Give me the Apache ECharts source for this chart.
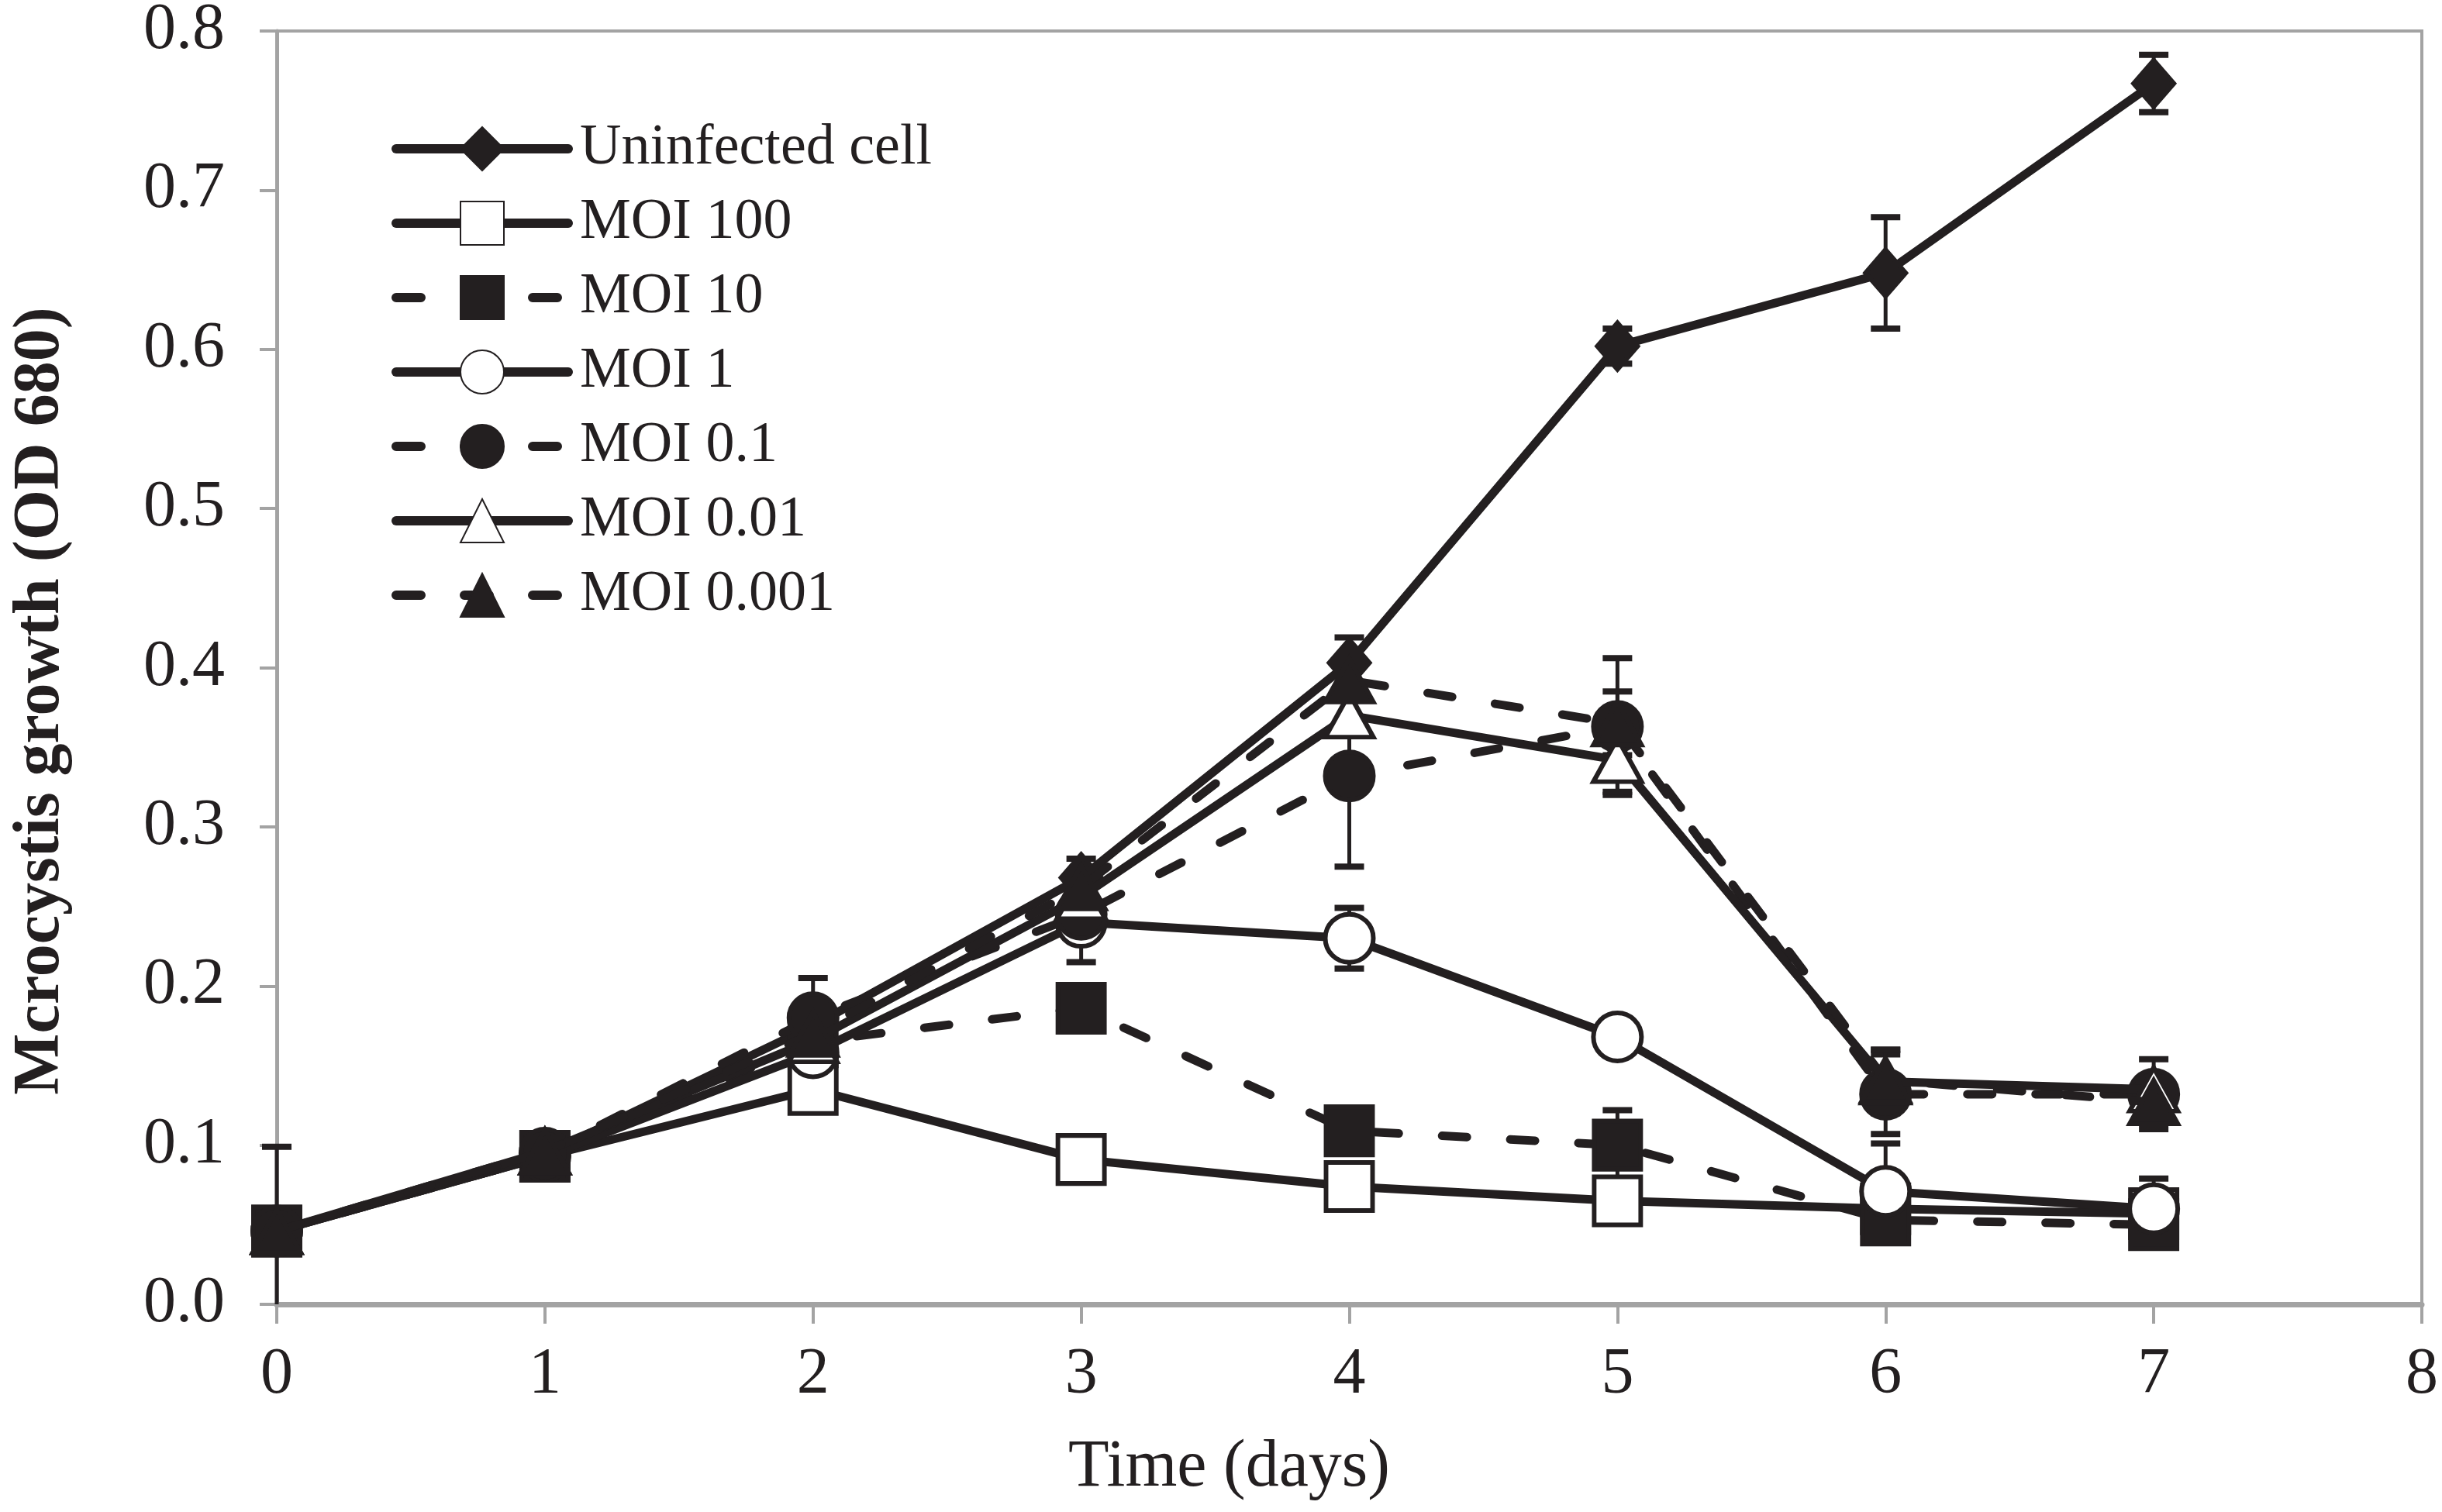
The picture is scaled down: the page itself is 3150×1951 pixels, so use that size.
<!DOCTYPE html>
<html>
<head>
<meta charset="utf-8">
<script src="https://cdn.jsdelivr.net/npm/echarts@6/dist/echarts.min.js"></script>
<style>html,body{margin:0;padding:0;background:#fff}#c{width:3150px;height:1951px}</style>
</head>
<body>
<div id="c"></div>
<script>
// ---- data ----
var days = [0, 1, 2, 3, 4, 5, 6, 7];
var seriesNames = ['Uninfected cell', 'MOI 100', 'MOI 10', 'MOI 1', 'MOI 0.1', 'MOI 0.01', 'MOI 0.001'];
var uninfected = [0.046, 0.094, 0.175, 0.268, 0.403, 0.602, 0.648, 0.767];
var moi100     = [0.046, 0.093, 0.135, 0.091, 0.074, 0.065, 0.060, 0.057];
var moi10      = [0.046, 0.093, 0.165, 0.186, 0.109, 0.100, 0.053, 0.050];
var moi1       = [0.046, 0.093, 0.158, 0.240, 0.230, 0.168, 0.071, 0.060];
var moi01      = [0.046, 0.095, 0.180, 0.245, 0.332, 0.363, 0.132, 0.132];
var moi001     = [0.046, 0.096, 0.166, 0.256, 0.370, 0.342, 0.140, 0.135];
var moi0001    = [0.046, 0.096, 0.170, 0.262, 0.392, 0.365, 0.141, 0.127];
// standard deviations (null = no visible error bar)
var uninfectedErr = [0.053, null, null, 0.012, 0.016, 0.011, 0.035, 0.018];
var moi100Err     = [null, null, 0.012, null, null, null, null, null];
var moi10Err      = [null, null, null, null, null, 0.022, null, null];
var moi1Err       = [null, null, null, 0.025, 0.019, null, 0.030, 0.019];
var moi01Err      = [null, null, 0.025, null, 0.057, 0.043, 0.025, 0.022];
var moi001Err     = [null, null, null, null, null, 0.020, 0.020, null];
var moi0001Err    = [null, null, null, null, null, 0.020, 0.019, null];
var xTicks = [0, 1, 2, 3, 4, 5, 6, 7, 8];
var yTicks = [0, 0.1, 0.2, 0.3, 0.4, 0.5, 0.6, 0.7, 0.8];

// ---- styling ----
var INK = '#231f20';
var AXIS = '#a3a3a3';
var FONT = 'Liberation Serif';
var values = [uninfected, moi100, moi10, moi1, moi01, moi001, moi0001];
var errs = [uninfectedErr, moi100Err, moi10Err, moi1Err, moi01Err, moi001Err, moi0001Err];
var styles = [
  {symbol: 'diamond', size: [52, 60], fill: INK, dashed: false},
  {symbol: 'rect', size: [60, 62], fill: '#fff', dashed: false},
  {symbol: 'rect', size: [60, 62], fill: INK, dashed: true},
  {symbol: 'circle', size: 62, fill: '#fff', dashed: false},
  {symbol: 'circle', size: 62, fill: INK, dashed: true},
  {symbol: 'triangle', size: [62, 56], fill: '#fff', dashed: false},
  {symbol: 'triangle', size: [62, 56], fill: INK, dashed: true}
];

var series = [];
var errData = [];
for (var i = 0; i < seriesNames.length; i++) {
  var st = styles[i];
  series.push({
    name: seriesNames[i],
    type: 'line',
    z: 3 + i,
    data: days.map(function (d, k) { return [d, values[i][k]]; }),
    symbol: st.symbol,
    symbolSize: st.size,
    showAllSymbol: true,
    animation: false,
    lineStyle: {color: INK, width: 11, type: st.dashed ? [32, 56] : 'solid', cap: 'round', join: 'round'},
    itemStyle: {color: st.fill, borderColor: INK, borderWidth: 6},
    emphasis: {disabled: true}
  });
  for (var k = 0; k < days.length; k++) {
    if (errs[i][k] != null) errData.push([days[k], values[i][k], errs[i][k]]);
  }
}

series.push({
  name: 'errors',
  type: 'custom',
  z: 2,
  animation: false,
  silent: true,
  data: errData,
  renderItem: function (params, api) {
    var x = api.value(0), y = api.value(1), e = api.value(2);
    var lowV = y - e;
    var top = api.coord([x, y + e]);
    var bot = api.coord([x, Math.max(0, lowV)]);
    var hw = 19;
    var children = [
      {type: 'line', shape: {x1: top[0], y1: top[1], x2: bot[0], y2: bot[1]}, style: {stroke: INK, lineWidth: 5}},
      {type: 'line', shape: {x1: top[0] - hw, y1: top[1], x2: top[0] + hw, y2: top[1]}, style: {stroke: INK, lineWidth: 8}}
    ];
    if (lowV >= 0) {
      children.push({type: 'line', shape: {x1: bot[0] - hw, y1: bot[1], x2: bot[0] + hw, y2: bot[1]}, style: {stroke: INK, lineWidth: 8}});
    }
    return {type: 'group', children: children};
  }
});

var chart = echarts.init(document.getElementById('c'), null, {renderer: 'canvas'});
chart.setOption({
  backgroundColor: '#fff',
  animation: false,
  grid: {left: 357, right: 26, top: 40, bottom: 268, show: true, borderColor: AXIS, borderWidth: 4, outerBoundsMode: 'none', containLabel: false},
  legend: {
    data: seriesNames,
    orient: 'vertical',
    left: 500,
    top: 150,
    itemWidth: 222,
    itemHeight: 70,
    itemGap: 22,
    selectedMode: false,
    lineStyle: {width: 12},
    textStyle: {fontFamily: FONT, fontSize: 74, color: INK, padding: [0, 0, 0, 10]}
  },
  xAxis: {
    type: 'value',
    min: xTicks[0],
    max: xTicks[xTicks.length - 1],
    interval: 1,
    name: 'Time (days)',
    nameLocation: 'middle',
    nameGap: 168,
    nameTextStyle: {fontFamily: FONT, fontSize: 86, color: INK, padding: [0, 310, 0, 0]},
    axisLine: {show: true, lineStyle: {color: AXIS, width: 7}},
    axisTick: {show: true, inside: false, length: 25, lineStyle: {color: AXIS, width: 4}},
    axisLabel: {fontFamily: FONT, fontSize: 84, color: INK, margin: 50},
    splitLine: {show: false}
  },
  yAxis: {
    type: 'value',
    min: yTicks[0],
    max: yTicks[yTicks.length - 1],
    interval: 0.1,
    name: 'Mcrocystis growth (OD 680)',
    nameLocation: 'middle',
    nameRotate: 90,
    nameGap: 262,
    nameTextStyle: {fontFamily: FONT, fontSize: 84, fontWeight: 'bold', color: INK, padding: [0, 86, 0, 0]},
    axisLine: {show: true, lineStyle: {color: AXIS, width: 5}},
    axisTick: {show: true, inside: false, length: 22, lineStyle: {color: AXIS, width: 4}},
    axisLabel: {fontFamily: FONT, fontSize: 84, color: INK, margin: 67, formatter: function (v) { return v.toFixed(1); }},
    splitLine: {show: false}
  },
  series: series
});
</script>
</body>
</html>
